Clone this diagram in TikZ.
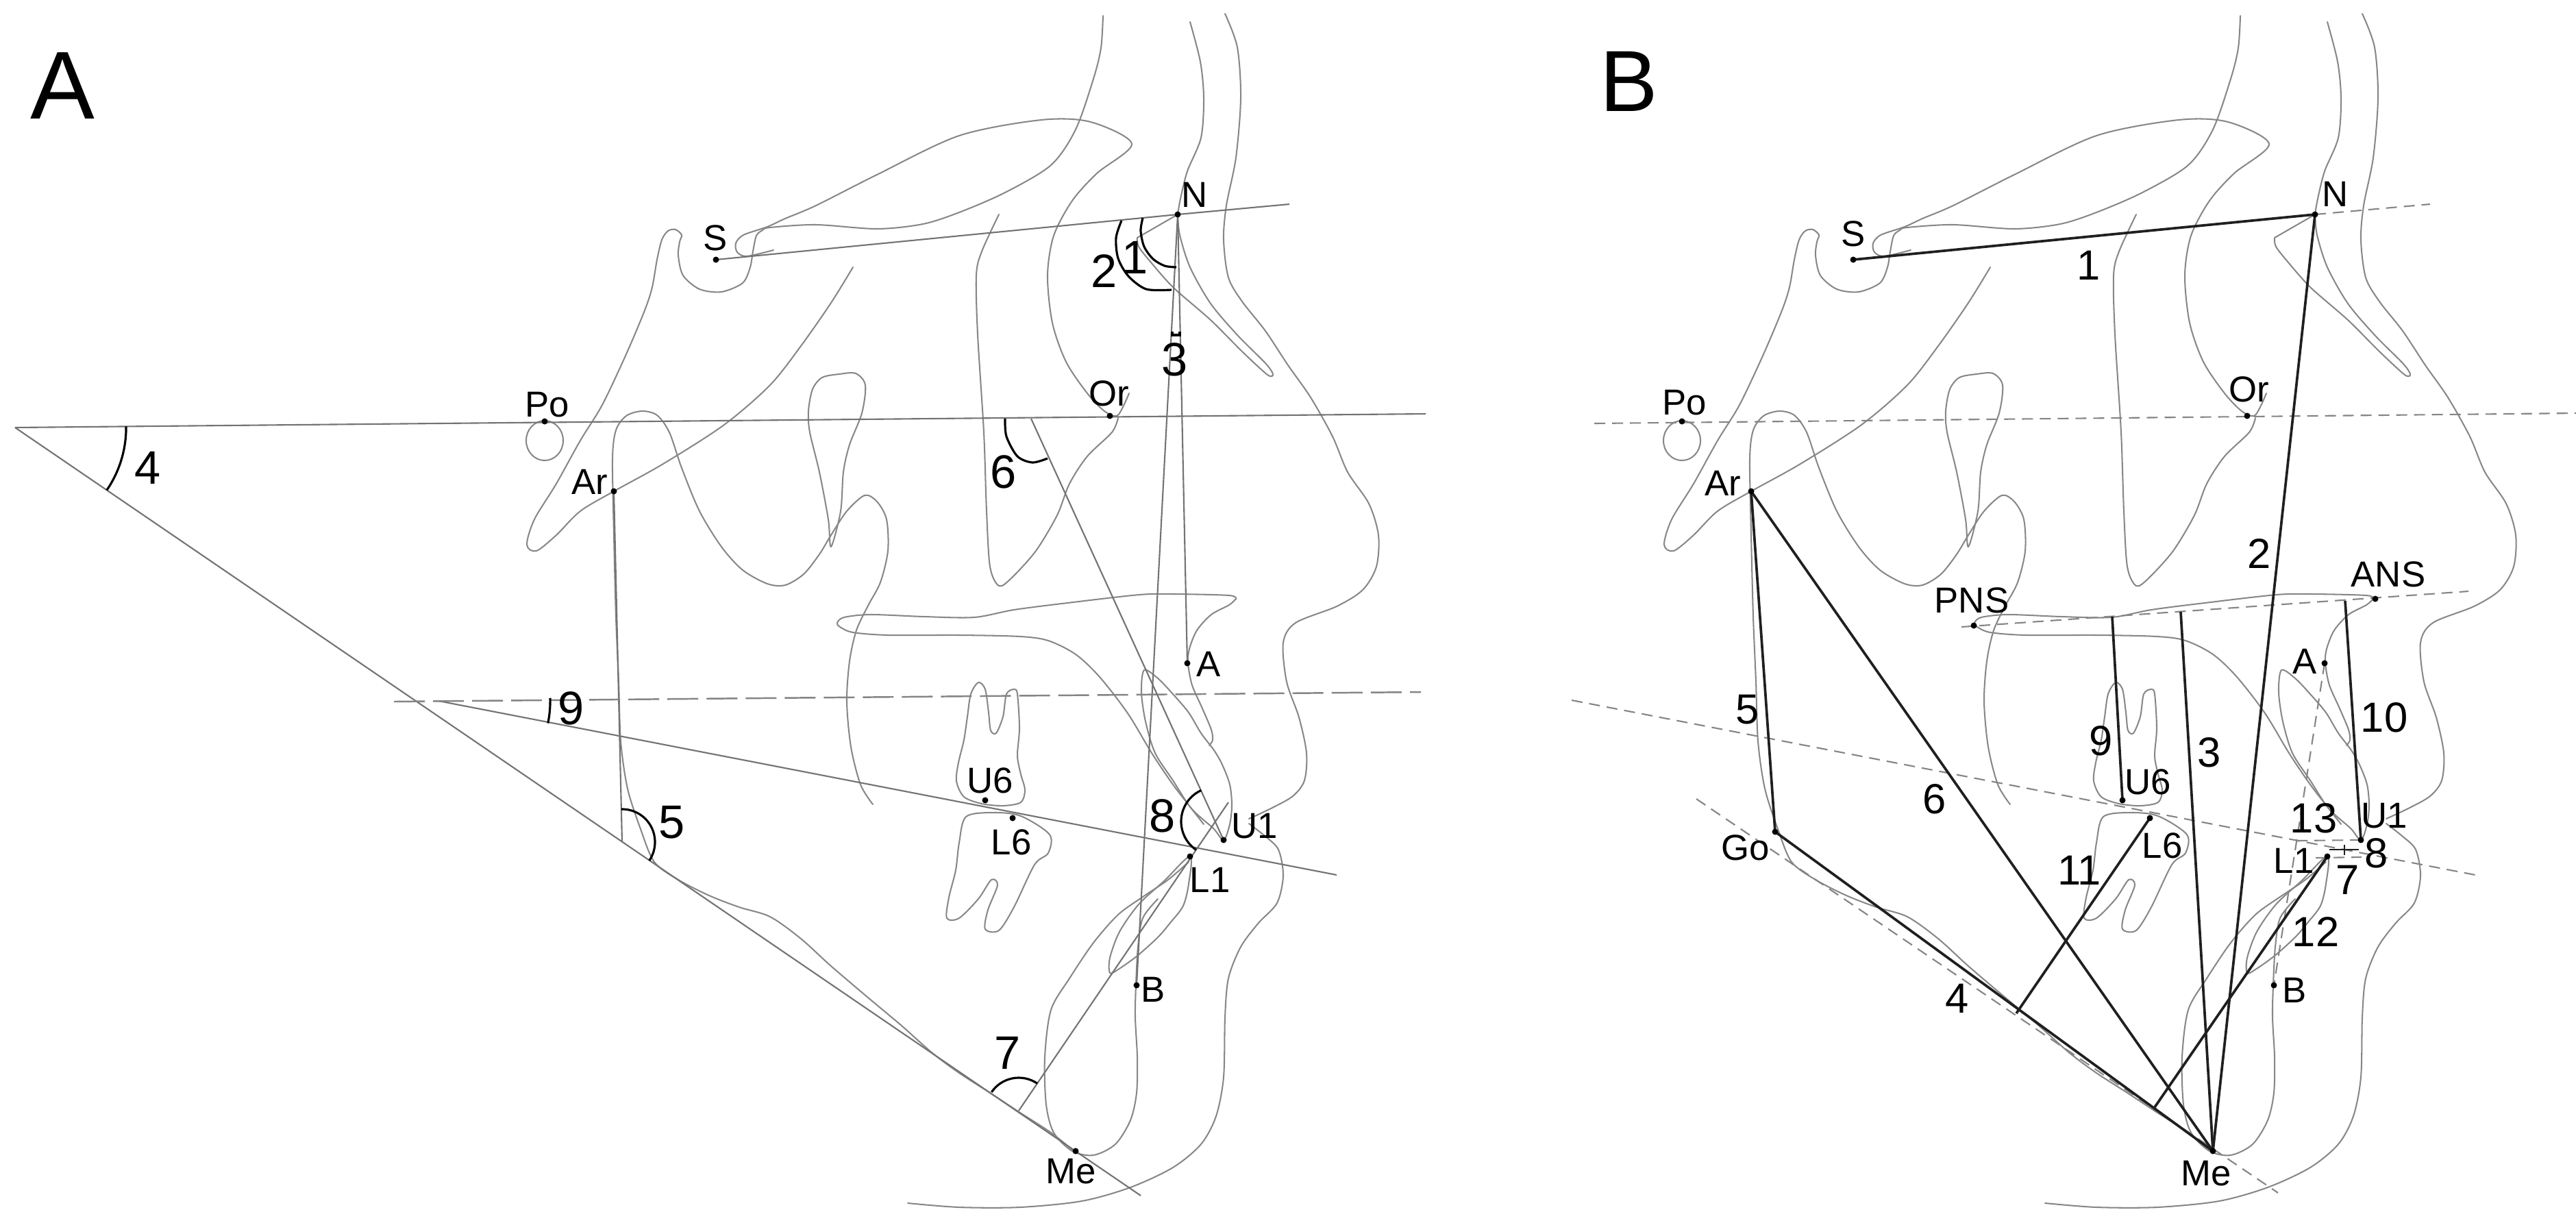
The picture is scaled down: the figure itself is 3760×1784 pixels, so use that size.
\documentclass[tikz,border=0pt]{standalone}
\usepackage{fontspec}
\setmainfont{Liberation Sans}
\usetikzlibrary{calc}
\tikzset{
  outl/.style={draw=black!47, line width=0.58pt, line join=round, line cap=round},
  refl/.style={draw=black!55, line width=0.6pt},
  angarc/.style={draw=black, line width=0.9pt},
  meas/.style={draw=black!88, line width=1.05pt},
  dashA/.style={draw=black!48, line width=0.7pt, dash pattern=on 0.45cm off 0.12cm},
  dashB/.style={draw=black!48, line width=0.6pt, dash pattern=on 0.16cm off 0.1cm},
  lbl/.style={inner sep=0pt, font=\fontsize{15}{17}\selectfont},
  numA/.style={inner sep=0pt, font=\fontsize{19.5}{22}\selectfont},
  numB/.style={inner sep=0pt, font=\fontsize{17.5}{20}\selectfont},
  panel/.style={inner sep=0pt, font=\fontsize{40}{44}\selectfont},
  lmdot/.style={fill=black},
}
\newcommand{\skulltrace}{%
% frontal inner, planum, sella, clivus, Ar
\draw[outl] plot[smooth] coordinates {(1610,23) (1607,70) (1596,115) (1570,189) (1534,241) (1467,281) (1400,310) (1347,327) (1280,334) (1191,328) (1124,332) (1113,336) (1104,344) (1099,367) (1095,390) (1084,413) (1053,426) (1021,422) (997,402) (990,373) (992,353) (995,343) (986,335) (975,337) (966,350) (959,379) (952,419) (941,453) (914,517) (879,591) (847,643) (812,706) (780,758) (769,795) (783,804) (812,781) (847,746) (896,717) (968,677) (1057,620) (1124,562) (1169,505) (1213,442) (1245,390)};
% orbital roof and orbit
\draw[outl] plot[smooth] coordinates {(1129,365) (1090,374) (1076,368) (1074,355) (1085,343) (1120,331) (1146,319) (1191,300) (1280,255) (1400,198) (1520,175) (1592,178) (1652,210) (1601,253) (1565,293) (1538,344) (1529,402) (1536,471) (1556,528) (1587,574) (1612,600) (1630,607) (1640,592) (1648,574)};
% zygoma
\draw[outl] plot[smooth] coordinates {(1632,610) (1623,631) (1587,666) (1561,706) (1543,752) (1512,804) (1476,844) (1458,855) (1445,827) (1440,746) (1436,631) (1427,488) (1425,402) (1433,367) (1458,313)};
% pterygomaxillary fissure
\draw[outl] plot[smooth cycle] coordinates {(1213,798) (1209,758) (1196,689) (1182,631) (1180,600) (1186,568) (1200,551) (1225,546) (1249,545) (1263,562) (1258,603) (1240,649) (1231,689) (1227,746)};
% mandible
\draw[outl] plot[smooth] coordinates {(1565,1678) (1534,1653) (1489,1624) (1445,1595) (1400,1566) (1361,1537) (1316,1497) (1267,1456) (1213,1410) (1169,1370) (1124,1338) (1079,1324) (1035,1307) (990,1284) (955,1258) (935,1210) (916,1151) (906,1082) (903,995) (899,900) (896,780) (894,670) (899,628) (914,607) (937,600) (959,606) (977,631) (995,683) (1021,746) (1053,798) (1084,832) (1120,852) (1146,854) (1173,838) (1196,809) (1213,781) (1236,746) (1262,723) (1280,732) (1294,758) (1296,804) (1285,850) (1267,884) (1250,920) (1240,965) (1236,1024) (1242,1090) (1256,1145) (1274,1174)};
% symphysis
\draw[outl] plot[smooth] coordinates {(1735,1258) (1705,1284) (1668,1309) (1632,1335) (1596,1376) (1561,1428) (1534,1474) (1525,1543) (1527,1612) (1538,1653) (1565,1680) (1596,1686) (1628,1670) (1650,1635) (1659,1595) (1660,1543) (1657,1485) (1658,1438) (1661,1382) (1668,1340) (1690,1312)};
% lower incisor
\draw[outl] plot[smooth cycle] coordinates {(1737,1250) (1735,1290) (1727,1322) (1708,1347) (1690,1368) (1660,1395) (1632,1415) (1620,1420) (1620,1398) (1634,1360) (1662,1320) (1700,1285)};
% upper incisor
\draw[outl] plot[smooth cycle] coordinates {(1670,978) (1690,990) (1712,1013) (1735,1040) (1753,1070) (1772,1095) (1784,1116) (1795,1145) (1798,1175) (1795,1203) (1786,1226) (1771,1209) (1739,1180) (1712,1139) (1686,1099) (1672,1053) (1666,1010)};
% ANS - A point contour
\draw[outl] plot[smooth] coordinates {(1804,874) (1794,883) (1768,897) (1747,920) (1736,947) (1734,968) (1740,1000) (1755,1034) (1768,1065) (1770,1080) (1765,1088)};
% palate
\draw[outl] plot[smooth] coordinates {(1757,1203) (1739,1180) (1712,1145) (1681,1099) (1646,1041) (1605,988) (1570,955) (1530,935) (1489,929) (1401,927) (1297,927) (1245,923) (1226,915) (1222,909) (1232,901) (1271,897) (1349,900) (1422,901) (1480,890) (1558,880) (1663,868) (1715,867) (1794,869) (1804,874)};
% upper molar
\draw[outl] plot[smooth cycle] coordinates {(1428,996) (1417,1013) (1412,1046) (1407,1080) (1399,1113) (1396,1140) (1407,1163) (1433,1173) (1464,1176) (1490,1171) (1496,1153) (1490,1130) (1485,1103) (1488,1063) (1485,1013) (1480,1006) (1469,1013) (1464,1046) (1454,1070) (1446,1066) (1443,1040) (1438,1006)};
% lower molar
\draw[outl] plot[smooth cycle] coordinates {(1410,1192) (1450,1186) (1490,1191) (1532,1218) (1530,1245) (1510,1262) (1480,1324) (1458,1358) (1438,1356) (1442,1328) (1456,1292) (1447,1284) (1428,1312) (1400,1340) (1382,1340) (1385,1310) (1395,1270) (1400,1230)};
% ear rod
\draw[outl] (795,643) ellipse [x radius=0.27cm, y radius=0.29cm];
% soft tissue: forehead, nose, upper lip
\draw[outl] plot[smooth] coordinates {(1788,20) (1806,69) (1811,143) (1804,230) (1790,300) (1786,350) (1793,405) (1813,440) (1847,483) (1880,533) (1913,580) (1945,637) (1967,689) (1998,735) (2012,781) (2009,827) (1989,861) (1951,885) (1891,909) (1873,938) (1878,995) (1896,1047) (1907,1099) (1904,1139) (1887,1162) (1855,1180) (1823,1195)};
% soft tissue: lower lip, chin
\draw[outl] plot[smooth] coordinates {(1823,1202) (1846,1220) (1866,1240) (1873,1278) (1864,1318) (1837,1347) (1811,1382) (1793,1428) (1788,1485) (1786,1572) (1775,1629) (1753,1670) (1712,1704) (1650,1733) (1579,1753) (1489,1762) (1400,1762) (1325,1756)};
% frontal bone profile
\draw[outl] plot[smooth] coordinates {(1737,32) (1752,90) (1757,143) (1753,201) (1733,250) (1723,290) (1719,313)};
% nasal bone
\draw[outl] plot[smooth] coordinates {(1719,313) (1722,343) (1737,390) (1767,443) (1807,490) (1847,530) (1858,546) (1850,547) (1813,513) (1767,467) (1713,420) (1680,383) (1662,360) (1660,347)};
\draw[outl] (1660,347) -- (1719,313);
}

\begin{document}
\begin{tikzpicture}[x=0.01cm, y=-0.01cm]
\fill[white] (0,0) rectangle (3760,1784);
\useasboundingbox (0,0) rectangle (3760,1784);

\skulltrace
\begin{scope}[shift={(1660,0)}]
\skulltrace
\end{scope}

% ---------- Panel A ----------
\coordinate (aS) at (1045,379);
\coordinate (aN) at (1719,313);
\coordinate (aPo) at (795,615);
\coordinate (aOr) at (1620,607);
\coordinate (aAr) at (896,717);
\coordinate (aA) at (1733,968);
\coordinate (aB) at (1659,1438);
\coordinate (aMe) at (1570,1680);
\coordinate (aU1) at (1786,1226);
\coordinate (aL1) at (1737,1250);
\coordinate (aU6) at (1438,1168);
\coordinate (aL6) at (1478,1194);
\coordinate (aSNe) at (1882,298);
\coordinate (aV) at (22,624);
\coordinate (aFHe) at (2081,604);
\coordinate (aMPe) at (1665,1745);
\coordinate (aG5) at (908,1229);
\coordinate (aO1) at (640,1023);
\coordinate (aO2) at (1951,1277);
\coordinate (aD1) at (575,1024);
\coordinate (aD2) at (2074,1010);
\coordinate (aF6) at (1505,611);
\coordinate (aM7) at (1487,1621);
\coordinate (aL1e) at (1793,1171);
\coordinate (aX8) at (1774,1199);

\draw[refl] (aS) -- (aN) -- (aSNe);
\draw[refl] (aV) -- (aFHe);
\draw[refl] (aV) -- (aMPe);
\draw[refl] (aN) -- (aA);
\draw[refl] (aN) -- (aB);
\draw[refl] (aAr) -- (aG5);
\draw[refl] (aO1) -- (aO2);
\draw[dashA] (aD1) -- (aD2);
\draw[refl] (aF6) -- (aU1);
\draw[refl] (aM7) -- (aL1e);

% angle arcs
\draw[angarc] plot[smooth] coordinates {(1668,318) (1665,337) (1670,360) (1683,378) (1700,388) (1717,390)};
\draw[angarc] plot[smooth] coordinates {(1637,322) (1629,347) (1632,377) (1647,403) (1673,422) (1710,423)};
\draw[angarc] (1711,484) -- (1711,489) -- (1722,489) -- (1722,484);
\draw[angarc] ($(aV)+(0.56:1.62cm)$) arc[start angle=0.56, end angle=-34.3, radius=1.62cm];
\draw[angarc] ($(aG5)+(91.3:0.48cm)$) arc[start angle=91.3, end angle=-34.3, radius=0.48cm];
\draw[angarc] plot[smooth] coordinates {(1467,611) (1469,637) (1485,666) (1507,675) (1529,669)};
\draw[angarc] ($(aM7)+(145.7:0.48cm)$) arc[start angle=145.7, end angle=55.8, radius=0.48cm];
\draw[angarc] ($(aX8)+(114.6:0.5cm)$) arc[start angle=114.6, end angle=235.8, radius=0.5cm];
\draw[angarc] ($(aO1)+(1.5:1.63cm)$) arc[start angle=1.5, end angle=-11.5, radius=1.63cm];

\foreach \p in {aS,aN,aPo,aOr,aAr,aA,aB,aMe,aU1,aL1,aU6,aL6}{\fill[lmdot] (\p) circle[radius=0.045cm];}

\node[lbl] (tAS) at (1044,347) {S};
\node[lbl] (tAN) at (1744,284) {N};
\node[lbl] (tAPo) at (799,591) {Po};
\node[lbl] (tAOr) at (1619,574) {Or};
\node[lbl] (tAAr) at (861,703) {Ar};
\node[lbl] (tAA) at (1764,969) {A};
\node[lbl] (tAB) at (1683,1444) {B};
\node[lbl] (tAMe) at (1563,1710) {Me};
\node[lbl] (tAU1) at (1831,1206) {U1};
\node[lbl] (tAL1) at (1766,1284) {L1};
\node[lbl] (tAU6) at (1445,1139) {U6};
\node[lbl] (tAL6) at (1476,1229) {L6};

\node[numA] (nA1) at (1657,376) {1};
\node[numA] (nA2) at (1612,396) {2};
\node[numA] (nA3) at (1715,525) {3};
\node[numA] (nA4) at (216,683) {4};
\node[numA] (nA5) at (981,1200) {5};
\node[numA] (nA6) at (1465,689) {6};
\node[numA] (nA7) at (1471,1537) {7};
\node[numA] (nA8) at (1697,1191) {8};
\node[numA] (nA9) at (834,1034) {9};

\node[panel] (pA) at (91,125) {A};

% ---------- Panel B ----------
\coordinate (bS) at (2705,379);
\coordinate (bN) at (3379,313);
\coordinate (bPo) at (2455,615);
\coordinate (bOr) at (3280,607);
\coordinate (bAr) at (2556,717);
\coordinate (bGo) at (2591,1214);
\coordinate (bMe) at (3230,1680);
\coordinate (bA) at (3393,968);
\coordinate (bB) at (3319,1438);
\coordinate (bU1) at (3446,1226);
\coordinate (bL1) at (3397,1250);
\coordinate (bU6) at (3098,1168);
\coordinate (bL6) at (3138,1194);
\coordinate (bPNS) at (2881,913);
\coordinate (bANS) at (3467,874);
\coordinate (bSNe) at (3547,298);
\coordinate (bFH1) at (2327,618);
\coordinate (bFH2) at (3760,603);
\coordinate (bPP1) at (2863,915);
\coordinate (bPP2) at (3603,863);
\coordinate (bOP1) at (2294,1022);
\coordinate (bOP2) at (3613,1277);
\coordinate (bMP1) at (2476,1166);
\coordinate (bMP2) at (3325,1741);
\coordinate (bP3) at (3183,893);
\coordinate (bP9) at (3083,900);
\coordinate (bP10) at (3423,877);
\coordinate (bM11) at (2943,1479);
\coordinate (bM12) at (3145,1616);
\coordinate (bOJ1) at (3352,1227);
\coordinate (bOB1) at (3380,1252);
\coordinate (bOB2) at (3447,1251);
\coordinate (bPM1) at (3400,1240);
\coordinate (bPM2) at (3443,1240);
\coordinate (bPV1) at (3422,1233);
\coordinate (bPV2) at (3422,1248);

\draw[dashB] (bN) -- (bSNe);
\draw[dashB] (bFH1) -- (bFH2);
\draw[dashB] (bPP1) -- (bPP2);
\draw[dashB] (bOP1) -- (bOP2);
\draw[dashB] (bMP1) -- (bMP2);
\draw[dashB] (bA) -- (bB);
\draw[dashB] (bOJ1) -- (bU1);
\draw[dashB] (bOB1) -- (bOB2);
\draw[meas, line width=0.7pt] (bPM1) -- (bPM2);
\draw[meas, line width=0.7pt] (bPV1) -- (bPV2);

\draw[meas] (bS) -- (bN);
\draw[meas] (bN) -- (bMe);
\draw[meas] (bP3) -- (bMe);
\draw[meas] (bGo) -- (bMe);
\draw[meas] (bAr) -- (bGo);
\draw[meas] (bAr) -- (bMe);
\draw[meas] (bP9) -- (bU6);
\draw[meas] (bP10) -- (bU1);
\draw[meas] (bL6) -- (bM11);
\draw[meas] (bL1) -- (bM12);

\foreach \p in {bS,bN,bPo,bOr,bAr,bGo,bMe,bA,bB,bU1,bL1,bU6,bL6,bPNS,bANS}{\fill[lmdot] (\p) circle[radius=0.045cm];}

\node[lbl] (tBS) at (2705,341) {S};
\node[lbl] (tBN) at (3409,283) {N};
\node[lbl] (tBPo) at (2459,588) {Po};
\node[lbl] (tBOr) at (3283,568) {Or};
\node[lbl] (tBAr) at (2515,705) {Ar};
\node[lbl] (tBGo) at (2548,1237) {Go};
\node[lbl] (tBMe) at (3220,1713) {Me};
\node[lbl] (tBA) at (3364,965) {A};
\node[lbl] (tBB) at (3349,1445) {B};
\node[lbl] (tBU6) at (3135,1141) {U6};
\node[lbl] (tBL6) at (3156,1234) {L6};
\node[lbl] (tBU1) at (3480,1191) {U1};
\node[lbl] (tBL1) at (3348,1256) {L1};
\node[lbl] (tBPNS) at (2878,876) {PNS};
\node[lbl] (tBANS) at (3486,838) {ANS};

\node[numB] (nB1) at (3049,387) {1};
\node[numB] (nB2) at (3298,808) {2};
\node[numB] (nB3) at (3225,1098) {3};
\node[numB] (nB4) at (2857,1457) {4};
\node[numB] (nB5) at (2551,1036) {5};
\node[numB] (nB6) at (2824,1166) {6};
\node[numB] (nB7) at (3427,1284) {7};
\node[numB] (nB8) at (3469,1245) {8};
\node[numB] (nB9) at (3067,1081) {9};
\node[numB] (nB10) at (3480,1047) {10};
\node[numB] (nB11) at (3035,1270) {11};
\node[numB] (nB12) at (3380,1360) {12};
\node[numB] (nB13) at (3377,1194) {13};

\node[panel, font=\fontsize{36}{40}\selectfont] (pB) at (2378,119) {B};
\end{tikzpicture}
\end{document}
